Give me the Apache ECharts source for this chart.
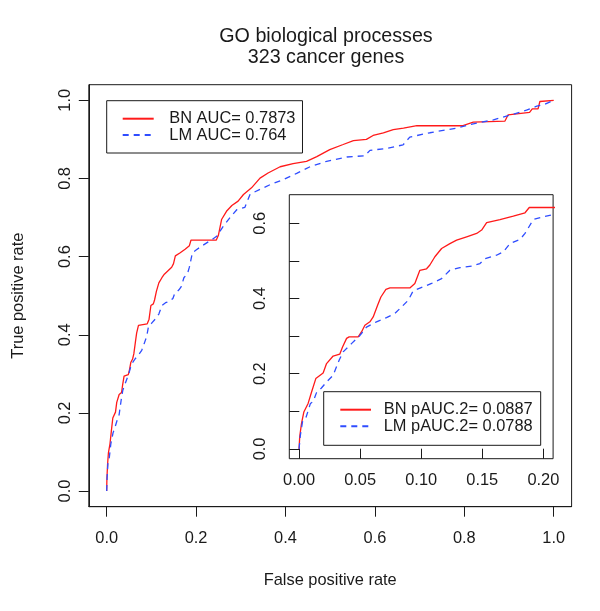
<!DOCTYPE html>
<html>
<head>
<meta charset="utf-8">
<script src="https://cdn.jsdelivr.net/npm/echarts@6/dist/echarts.min.js"></script>
<style>html,body{margin:0;padding:0;background:#fff;}#c{width:600px;height:611px;}</style>
</head>
<body>
<div id="c"></div>
<script>
// ---- data ----
var titleLines = ['GO biological processes', '323 cancer genes'];
var xLabel = 'False positive rate';
var yLabel = 'True positive rate';
var seriesNames = ['BN AUC= 0.7873', 'LM AUC= 0.764'];
var insetNames = ['BN pAUC.2= 0.0887', 'LM pAUC.2= 0.0788'];
var mainTicks = [0, 0.2, 0.4, 0.6, 0.8, 1.0];
var insetXTicks = [0, 0.05, 0.10, 0.15, 0.20];
var insetYTicks = [0, 0.1, 0.2, 0.3, 0.4, 0.5, 0.6];
var insetYLabels = [0, 0.2, 0.4, 0.6];

var bnFpr = [0,0.0005,0.002,0.0039,0.0074,0.0103,0.0137,0.0197,0.0225,0.0279,0.0333,0.0356,0.0389,0.041,0.0484,0.0511,0.0539,0.058,0.0607,0.0643,0.067,0.0711,0.0744,0.0907,0.0948,0.0989,0.1044,0.1071,0.1112,0.1167,0.1235,0.129,0.1372,0.1454,0.1495,0.1536,0.1645,0.1754,0.185,0.1885,0.245,0.25,0.257,0.268,0.28,0.294,0.306,0.324,0.343,0.361,0.388,0.417,0.447,0.47,0.499,0.529,0.552,0.581,0.596,0.619,0.641,0.664,0.694,0.797,0.82,0.891,0.898,0.946,0.952,0.965,0.969,1];
var bnTpr = [0,0.032,0.068,0.098,0.121,0.152,0.187,0.202,0.227,0.247,0.252,0.271,0.294,0.298,0.298,0.311,0.329,0.338,0.351,0.382,0.404,0.424,0.428,0.428,0.44,0.475,0.479,0.489,0.511,0.533,0.546,0.555,0.564,0.573,0.582,0.602,0.61,0.619,0.628,0.642,0.642,0.655,0.695,0.716,0.731,0.742,0.759,0.776,0.801,0.814,0.83,0.838,0.844,0.856,0.874,0.887,0.897,0.9,0.91,0.917,0.925,0.929,0.935,0.935,0.944,0.947,0.963,0.969,0.978,0.978,0.997,1];
var lmFpr = [0,0.001,0.003,0.0058,0.0093,0.0115,0.0142,0.0183,0.0225,0.0279,0.0328,0.0361,0.0429,0.0497,0.0552,0.0634,0.0716,0.0784,0.0825,0.0893,0.0934,0.1016,0.1085,0.1167,0.1235,0.1317,0.1413,0.1481,0.1522,0.1617,0.1672,0.1727,0.1809,0.185,0.1918,0.2,0.2137,0.236,0.246,0.261,0.276,0.291,0.309,0.321,0.343,0.369,0.395,0.425,0.455,0.492,0.537,0.577,0.589,0.626,0.663,0.678,0.723,0.783,0.82,0.865,0.902,0.939,0.962,0.98,1];
var lmTpr = [0,0.035,0.076,0.085,0.121,0.126,0.149,0.162,0.178,0.196,0.236,0.258,0.28,0.301,0.324,0.338,0.349,0.36,0.373,0.395,0.42,0.431,0.44,0.453,0.475,0.482,0.486,0.493,0.506,0.515,0.524,0.546,0.557,0.573,0.61,0.617,0.628,0.644,0.652,0.678,0.7,0.72,0.726,0.76,0.772,0.786,0.797,0.813,0.83,0.844,0.855,0.858,0.872,0.877,0.886,0.906,0.917,0.929,0.94,0.95,0.962,0.975,0.985,0.99,1];

function pairs(xs, ys) { return xs.map(function (x, i) { return [x, ys[i]]; }); }
var bnData = pairs(bnFpr, bnTpr);
var lmData = pairs(lmFpr, lmTpr);

var FONT = 'Liberation Sans, Arial, Helvetica, sans-serif';
var RED = '#ff1a1a', BLUE = '#2f4dff', INK = '#1a1a1a';
var lbl = { color: INK, fontFamily: FONT, fontSize: 16.4 };

function tick(vals, inside) {
  return { show: true, inside: !!inside, length: 10, customValues: vals, lineStyle: { color: INK, width: 1 } };
}
function label(vals, margin, digits, rot) {
  return { customValues: vals, margin: margin, rotate: rot || 0, color: INK, fontFamily: FONT, fontSize: 16.4,
    formatter: function (v) { return v.toFixed(digits); } };
}
var showLine = { show: true, onZero: false, lineStyle: { color: INK, width: 1 } };
var noLine = { show: false, onZero: false };

var legendCommon = { orient: 'vertical', itemHeight: 20, borderColor: INK, borderWidth: 1, borderRadius: 0,
  backgroundColor: '#ffffff', selectedMode: false, itemStyle: { opacity: 0, borderWidth: 0 } };
function mk(base, extra) { var o = {}; for (var k in base) o[k] = base[k]; for (var j in extra) o[j] = extra[j]; return o; }

var chart = echarts.init(document.getElementById('c'), null, { renderer: 'canvas' });
chart.setOption({
  backgroundColor: '#ffffff',
  animation: false,
  title: [
    { text: titleLines.join('\n'), left: 326, top: 25.5, textAlign: 'center', padding: 0,
      textStyle: { fontFamily: FONT, fontSize: 19.7, fontWeight: 'normal', color: INK, lineHeight: 21.7 } }
  ],
  grid: [
    { left: 88.8, top: 84.7, width: 482.8, height: 422, show: true, borderColor: INK, borderWidth: 1, backgroundColor: 'transparent' },
    { left: 289.3, top: 194.7, width: 263.8, height: 264, show: true, borderColor: INK, borderWidth: 1, backgroundColor: '#ffffff', z: 5 }
  ],
  xAxis: [
    { type: 'value', gridIndex: 0, min: -0.04, max: 1.04, splitLine: { show: false }, axisLine: showLine,
      name: xLabel, nameLocation: 'middle', nameGap: 66, nameTextStyle: lbl,
      axisTick: tick(mainTicks, false), axisLabel: label(mainTicks, 24, 1) },
    { type: 'value', gridIndex: 1, min: -0.008, max: 0.208, z: 6, splitLine: { show: false }, axisLine: noLine,
      axisTick: tick(insetXTicks, true), axisLabel: label(insetXTicks, 14, 2) }
  ],
  yAxis: [
    { type: 'value', gridIndex: 0, min: -0.04, max: 1.04, splitLine: { show: false }, axisLine: showLine,
      name: yLabel, nameLocation: 'middle', nameGap: 62, nameRotate: 90, nameTextStyle: lbl,
      axisTick: tick(mainTicks, false), axisLabel: label(mainTicks, 15, 1, 90) },
    { type: 'value', gridIndex: 1, min: -0.026, max: 0.676, z: 6, splitLine: { show: false }, axisLine: noLine,
      axisTick: tick(insetYTicks, true), axisLabel: label(insetYLabels, 21, 1, 90) }
  ],
  legend: [
    mk(legendCommon, { data: seriesNames, left: 106.7, top: 100.7, padding: [10, 7, 10, 15], itemGap: 0.3, itemWidth: 31,
      textStyle: { color: INK, fontFamily: FONT, fontSize: 16.4, padding: [0, 0, 0, 10.6] } }),
    mk(legendCommon, { data: insetNames, left: 323.7, top: 391.7, padding: [10, 8, 11, 15.6], itemGap: 0.6, itemWidth: 30.7, z: 10,
      textStyle: { color: INK, fontFamily: FONT, fontSize: 16.4, padding: [0, 0, 0, 7.7] } })
  ],
  series: [
    { name: seriesNames[0], type: 'line', xAxisIndex: 0, yAxisIndex: 0, data: bnData, showSymbol: false, symbol: 'none',
      lineStyle: { color: RED, width: 1.3 }, itemStyle: { color: RED } },
    { name: seriesNames[1], type: 'line', xAxisIndex: 0, yAxisIndex: 0, data: lmData, showSymbol: false, symbol: 'none',
      lineStyle: { color: BLUE, width: 1.3, type: [6, 5] }, itemStyle: { color: BLUE } },
    { name: insetNames[0], type: 'line', xAxisIndex: 1, yAxisIndex: 1, data: bnData, showSymbol: false, symbol: 'none', clip: true, z: 7,
      lineStyle: { color: RED, width: 1.3 }, itemStyle: { color: RED } },
    { name: insetNames[1], type: 'line', xAxisIndex: 1, yAxisIndex: 1, data: lmData, showSymbol: false, symbol: 'none', clip: true, z: 7,
      lineStyle: { color: BLUE, width: 1.3, type: [6, 5] }, itemStyle: { color: BLUE } }
  ]
});
</script>
</body>
</html>
